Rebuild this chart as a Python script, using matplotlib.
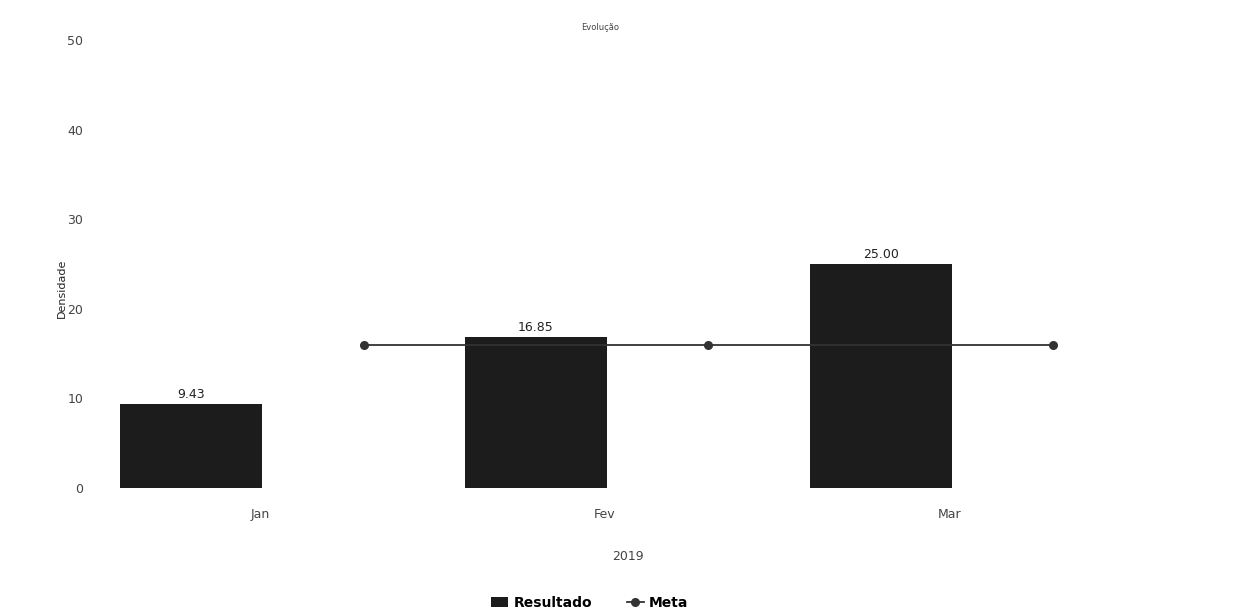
import matplotlib
matplotlib.use('Agg')
import matplotlib.pyplot as plt
import numpy as np

meses = ['Jan', 'Fev', 'Mar']
resultado = [9.43, 16.85, 25.00]
meta = [16.0, 16.0, 16.0]
yticks = [0, 10, 20, 30, 40, 50]

BAR = '#1c1c1c'
LINE = '#333333'
TXT = '#444444'

fig = plt.figure(figsize=(12.6, 6.16), dpi=100)
fig.patch.set_facecolor('white')
ax = fig.add_axes([100 / 1260, 119 / 616, 1000 / 1260, 475 / 616])

x = np.arange(len(meses))
bars = ax.bar(x, resultado, width=0.41, color=BAR, label='Resultado', zorder=2)
for xi, v in zip(x, resultado):
    ax.text(xi, v + 0.3, f'{v:.2f}', ha='center', va='bottom', fontsize=9, color='#222222')

ax.plot(x + 0.5, meta, color=LINE, lw=1.3, marker='o', markersize=5.5,
        markerfacecolor=LINE, label='Meta', zorder=3)

ax.set_xlim(-0.264, 2.635)
ax.set_ylim(-1, 52)
ax.set_yticks(yticks)
ax.set_yticklabels([str(t) for t in yticks], color=TXT, fontsize=9)
ax.set_xticks(x + 0.2)
ax.set_xticklabels(meses, color=TXT, fontsize=9)
ax.tick_params(length=0, axis='y', pad=12)
ax.tick_params(length=0, axis='x', pad=8)
for s in ax.spines.values():
    s.set_visible(False)

# rótulo do eixo y fica sobreposto à coluna dos ticks, como no original
ax.set_ylabel('Densidade', fontsize=8, color='#222222')
ax.yaxis.set_label_coords(-33 / 1000, 0.44)
fig.text(600 / 1260, 1 - 27 / 616, 'Evolução', fontsize=6, color=TXT, ha='center', va='center')
fig.text(628 / 1260, 1 - 557 / 616, '2019', fontsize=9, color=TXT, ha='center', va='center')

fig.legend(handles=[bars, ax.lines[0]], labels=['Resultado', 'Meta'], loc='center',
           bbox_to_anchor=(590 / 1260, 1 - 603 / 616), ncol=2, frameon=False,
           prop={'weight': 'bold', 'size': 10}, handlelength=1.2, columnspacing=2.5,
           handletextpad=0.4)

plt.savefig('out.png', dpi=100, facecolor='white')
